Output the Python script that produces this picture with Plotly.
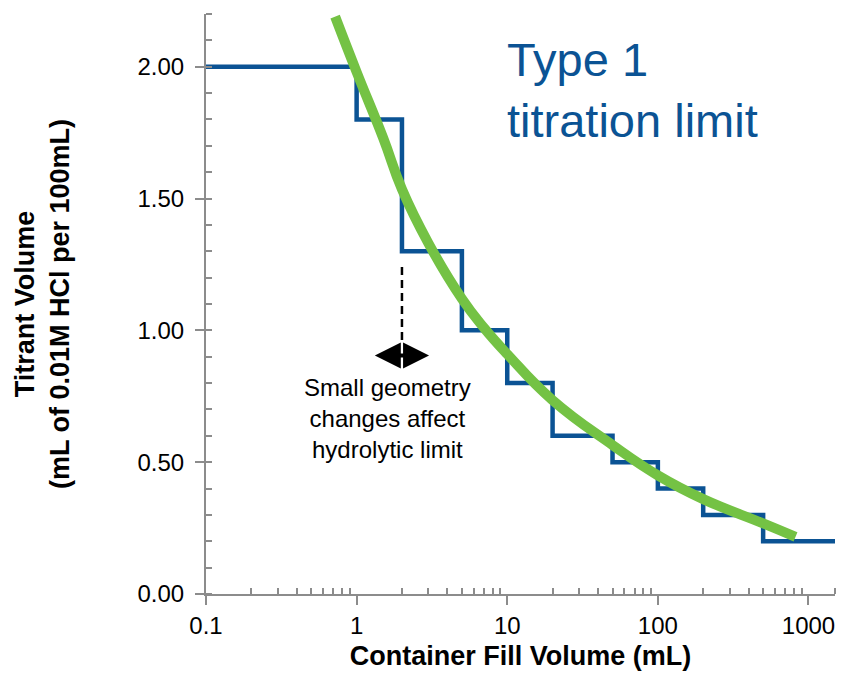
import numpy as np
import plotly.graph_objects as go

# Step limits (USP Type 1 titration limit)
fill_volume = [0.1, 1, 2, 5, 10, 20, 50, 100, 200, 500, 1500]
titrant_limit = [2.00, 1.80, 1.30, 1.00, 0.80, 0.60, 0.50, 0.40, 0.30, 0.20, 0.20]

# Smooth trend curve
curve_x = [0.72, 1, 1.5, 2, 3, 5, 7, 10, 20, 50, 100, 200, 500, 820]
curve_y = [2.19, 1.98, 1.73, 1.535, 1.33, 1.12, 1.01, 0.91, 0.735, 0.565, 0.45, 0.36, 0.268, 0.217]

# Dashed marker line at fill volume 2 mL
dash_x = [2, 2]
dash_y = [1.24, 0.96]

x_tickvals = [0.1, 1, 10, 100, 1000]
x_ticktext = ["0.1", "1", "10", "100", "1000"]
x_minor = [v * m for v in [0.1, 1, 10, 100] for m in range(2, 10)] + [1500]
y_tickvals = [0, 0.5, 1.0, 1.5, 2.0]

BLUE = "#0B5394"
GREEN = "#74C244"
AXIS = "#8C8C8C"
FONT = "Liberation Sans, Arial, sans-serif"

fig = go.Figure()
fig.add_trace(go.Scatter(x=fill_volume, y=titrant_limit, mode="lines",
                         line=dict(color=BLUE, width=4.5, shape="hv"),
                         showlegend=False, hoverinfo="skip"))
fig.add_trace(go.Scatter(x=curve_x, y=curve_y, mode="lines",
                         line=dict(color=GREEN, width=10, shape="spline", smoothing=1.3),
                         showlegend=False, hoverinfo="skip"))
fig.add_trace(go.Scatter(x=dash_x, y=dash_y, mode="lines",
                         line=dict(color="black", width=2.5, dash="8px,5px"),
                         showlegend=False, hoverinfo="skip"))

# double arrow
fig.add_annotation(x=np.log10(2) + 0.18, y=0.905, ax=np.log10(2) - 0.19, ay=0.905,
                   xref="x", yref="y", axref="x", ayref="y", text="",
                   showarrow=True, arrowhead=2, startarrowhead=2, arrowside="end+start",
                   arrowwidth=4, arrowsize=1.3, startarrowsize=1.3, arrowcolor="black")
fig.add_annotation(x=np.log10(1.6), y=0.667, xref="x", yref="y",
                   text="Small geometry<br>changes affect<br>hydrolytic limit",
                   showarrow=False, font=dict(family=FONT, size=24, color="black"),
                   align="center", xanchor="center", yanchor="middle")
fig.add_annotation(x=np.log10(9.6), y=1.91, xref="x", yref="y",
                   text="Type 1<br>titration limit",
                   showarrow=False, font=dict(family=FONT, size=47, color=BLUE),
                   align="left", xanchor="left", yanchor="middle")

fig.update_layout(
    width=841, height=674,
    margin=dict(l=206, r=6, t=14, b=80),
    paper_bgcolor="white", plot_bgcolor="white",
    font=dict(family=FONT, color="black", size=24),
    xaxis=dict(type="log", range=[-1, np.log10(1500)],
               tickvals=x_tickvals, ticktext=x_ticktext,
               showgrid=False, zeroline=False,
               showline=True, linecolor=AXIS, linewidth=2,
               ticks="outside", ticklen=9, tickwidth=2, tickcolor=AXIS,
               tickfont=dict(size=24, color="black"),
               minor=dict(tickvals=x_minor, ticks="inside", ticklen=6, tickwidth=1.5,
                          tickcolor=AXIS, showgrid=False),
               title=dict(text="<b>Container Fill Volume (mL)</b>",
                          font=dict(size=27, color="black"), standoff=8)),
    yaxis=dict(range=[0, 2.2], tickvals=y_tickvals, tickformat=".2f",
               showgrid=False, zeroline=False,
               showline=True, linecolor=AXIS, linewidth=2,
               ticks="outside", ticklen=9, tickwidth=2, tickcolor=AXIS,
               ticklabelstandoff=6,
               tickfont=dict(size=24, color="black"),
               minor=dict(dtick=0.1, ticks="inside", ticklen=6, tickwidth=1.5,
                          tickcolor=AXIS, showgrid=False),
               title=dict(text="<b>Titrant Volume<br>(mL of 0.01M HCl per 100mL)</b>",
                          font=dict(size=27, color="black"), standoff=60)),
)

fig.write_html("out.html")
